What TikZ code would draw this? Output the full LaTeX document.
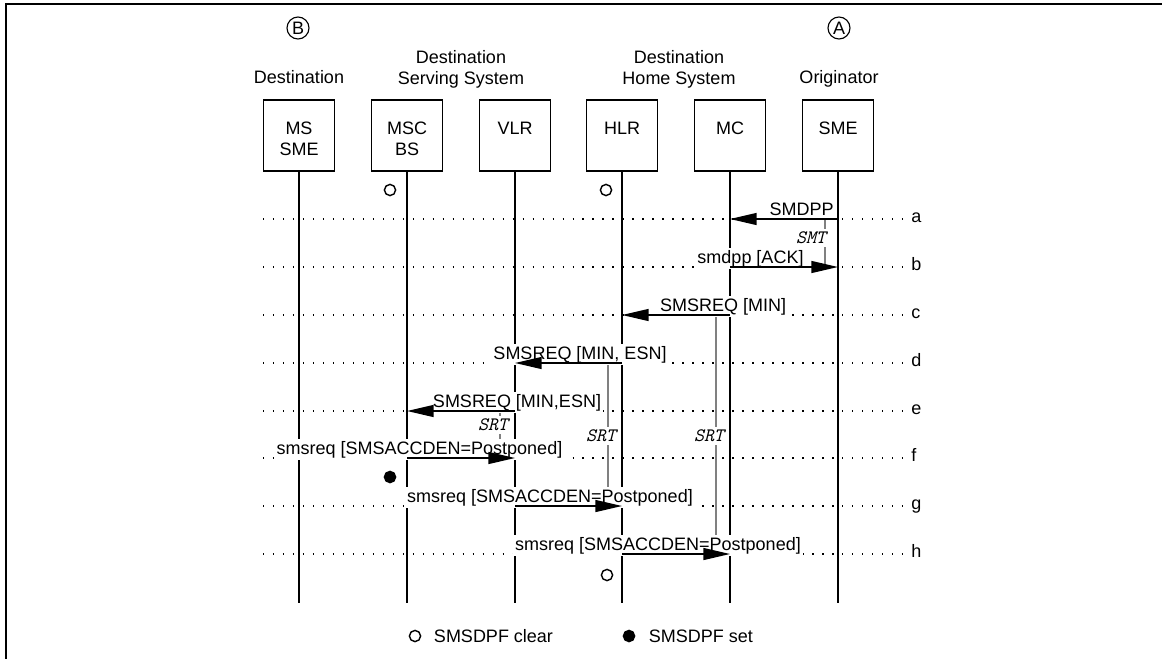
\documentclass[tikz,border=0pt]{standalone}
\usepackage{fontspec}
\setmainfont{Liberation Sans}
\usepackage{tikz}
\usetikzlibrary{arrows.meta,positioning}

\begin{document}
\begin{tikzpicture}[x=0.025cm, y=-0.025cm,
    every node/.style={font=\fontsize{12.8}{14.6}\selectfont, inner sep=0pt},
    hdr/.style={anchor=north, align=center},
    ent/.style={draw, line width=1.1pt, minimum width=1.775cm, minimum height=1.775cm},
    life/.style={line width=1.1pt},
    msg/.style={line width=1.1pt, -{Triangle[length=19pt, width=8.5pt]}},
    lbl/.style={fill=white, inner sep=1.5pt, anchor=base},
    tmr/.style={black!50, line width=1pt},
    tlbl/.style={fill=white, inner sep=2pt, font=\fontsize{13.5}{15}\selectfont\ttfamily\itshape},
    row/.style={line width=1pt, dash pattern=on 1pt off 6.1pt},
    flag/.style={circle, draw, line width=1pt, minimum size=0.28cm}]
\useasboundingbox (0,0) rectangle (1162,658);
\draw[line width=1.5pt] (6.2,662) |- (1170,4.2);

% headings
\node[draw, circle, line width=0.8pt, minimum size=0.55cm] (cB) at (298,28) {B};
\node[draw, circle, line width=0.8pt, minimum size=0.55cm] (cA) at (839,28) {A};
\node[hdr] (h-dst) at (299,70.6) {Destination};
\node[hdr] (h-srv) at (461,50.6) {Destination\\Serving System};
\node[hdr] (h-home) at (679,50.6) {Destination\\Home System};
\node[hdr] (h-org) at (839,70.6) {Originator};

% dotted rows
\foreach \l/\y in {a/219, b/267, c/315, d/363, e/411, f/458, g/506, h/554} {
    \coordinate (r\l) at (263,\y);
    \draw[row] (r\l) -- (907,\y);
    \node[anchor=mid west] (r\l-txt) at (911,\y) {\l};
}

% entities and lifelines
\foreach \n/\x in {mss/299, msc/407, vlr/515, hlr/622, mc/730, sme/838} {
    \node[ent] (\n) at (\x,135.5) {};
    \coordinate (\n-end) at (\x,603);
    \draw[life] (\n) -- (\n-end);
}
\foreach \n/\t in {mss/{MS\\SME}, msc/{MSC\\BS}, vlr/VLR, hlr/HLR, mc/MC, sme/SME}
    \node[hdr] (\n-txt) at ([yshift=-0.56cm]\n.north) {\t};

% timers
\draw[tmr] (825,220) -- (825,266);
\node[tlbl] (smt) at (811,238) {SMT};
\draw[tmr] (716,316) -- (716,554);
\node[tlbl] (srt-mc) at (709,436) {SRT};
\draw[tmr] (608,364) -- (608,506);
\node[tlbl] (srt-hlr) at (601,436) {SRT};
\draw[tmr] (500,412) -- (500,458);
\node[tlbl] (srt-vlr) at (493,425) {SRT};

% messages
\node[lbl] (la) at (801.5,215.5) {SMDPP};
\node[lbl] (lb) at (750.5,263.5) {smdpp [ACK]};
\node[lbl] (lc) at (723,311.5) {SMSREQ [MIN]};
\node[lbl] (ld) at (580,359.5) {SMSREQ [MIN, ESN]};
\node[lbl] (le) at (517,407.5) {SMSREQ [MIN,ESN]};
\node[lbl] (lf) at (419.5,454.5) {smsreq [SMSACCDEN=Postponed]};
\node[lbl] (lg) at (550,502.5) {smsreq [SMSACCDEN=Postponed]};
\node[lbl] (lh) at (658,550.5) {smsreq [SMSACCDEN=Postponed]};
\draw[msg] (sme |- ra) -- (mc |- ra);
\draw[msg] (mc |- rb) -- (sme |- rb);
\draw[msg] (mc |- rc) -- (hlr |- rc);
\draw[msg] (hlr |- rd) -- (vlr |- rd);
\draw[msg] (vlr |- re) -- (msc |- re);
\draw[msg] (msc |- rf) -- (vlr |- rf);
\draw[msg] (vlr |- rg) -- (hlr |- rg);
\draw[msg] (hlr |- rh) -- (mc |- rh);

% SMSDPF flags
\node[flag] (clr1) at (390,190) {};
\node[flag] (clr2) at (606,190) {};
\node[flag, fill] (set1) at (390,477) {};
\node[flag] (clr3) at (607,575) {};

% key
\node[flag] (key-clr) at (415,636) {};
\node[right=0.31cm of key-clr] (key-clr-txt) {SMSDPF clear};
\node[flag, fill] (key-set) at (629,636) {};
\node[right=0.33cm of key-set] (key-set-txt) {SMSDPF set};
\end{tikzpicture}
\end{document}
